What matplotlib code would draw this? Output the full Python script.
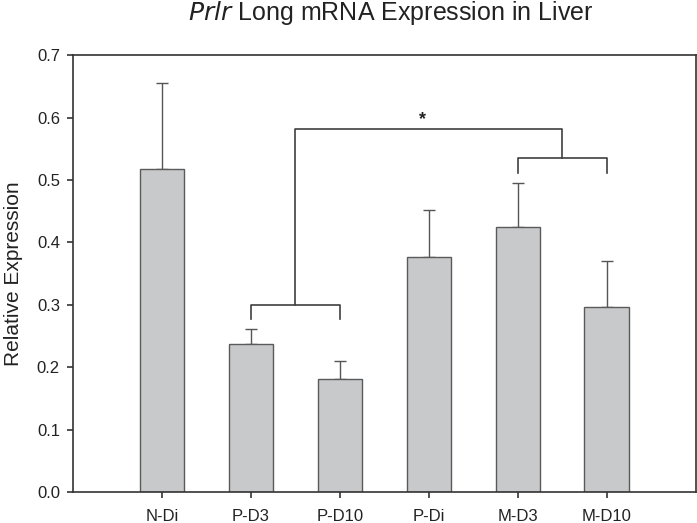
import numpy as np
import matplotlib.pyplot as plt

plt.rcParams['font.family'] = ['Liberation Sans', 'DejaVu Sans']

groups = ["N-Di", "P-D3", "P-D10", "P-Di", "M-D3", "M-D10"]
means = [0.518, 0.238, 0.181, 0.376, 0.425, 0.296]
errs = [0.137, 0.024, 0.029, 0.076, 0.070, 0.075]

# significance brackets (y levels in data units)
low_bracket_y = 0.300
low_leg_y = 0.278
right_bracket_y = 0.536
right_leg_y = 0.512
top_bracket_y = 0.5825

fig = plt.figure(figsize=(6.97, 5.23), dpi=100)
ax = fig.add_axes([0.105, 0.0593, 0.893, 0.835])

x = np.arange(len(groups))
ax.bar(x, means, width=0.5, color='#c8c9cb', edgecolor='#5a5a5a', linewidth=1.0, zorder=2)
ax.errorbar(x, means, yerr=[np.zeros(len(errs)), errs], fmt='none',
            ecolor='#555555', elinewidth=1.0, capsize=4.5, capthick=1.0, zorder=1)

lc = '#404040'
lw = 1.2
# left bracket over P-D3 / P-D10
ax.plot([x[1], x[1], x[2], x[2]], [low_leg_y, low_bracket_y, low_bracket_y, low_leg_y], color=lc, lw=lw)
# right bracket over M-D3 / M-D10
ax.plot([x[4], x[4], x[5], x[5]], [right_leg_y, right_bracket_y, right_bracket_y, right_leg_y], color=lc, lw=lw)
# top bracket joining both
lmid = (x[1] + x[2]) / 2
rmid = (x[4] + x[5]) / 2
ax.plot([lmid, lmid, rmid, rmid], [low_bracket_y, top_bracket_y, top_bracket_y, right_bracket_y], color=lc, lw=lw)
ax.text(2.93, top_bracket_y + 0.001, '*', ha='center', va='bottom', fontsize=13, fontweight='bold', color='#222222')

ax.set_xlim(-1, 6)
ax.set_ylim(0, 0.7)
ax.set_yticks(np.arange(0, 0.71, 0.1))
ax.set_yticklabels([f"{v:.1f}" for v in np.arange(0, 0.71, 0.1)])
ax.set_xticks(x)
ax.set_xticklabels(groups)

for s in ax.spines.values():
    s.set_color('#333333')
    s.set_linewidth(1.2)
ax.tick_params(axis='both', direction='out', length=4.5, width=1.2, color='#333333',
               labelsize=12, labelcolor='#222222')
ax.tick_params(axis='x', pad=8)
ax.tick_params(axis='y', pad=5)

ax.set_ylabel('Relative Expression', fontsize=15, color='#222222', labelpad=10)
fig.text(0.56, 0.975, r'$\mathit{Prlr}$ Long mRNA Expression in Liver', ha='center', va='center',
         fontsize=18, color='#222222')

fig.savefig('out.png', dpi=100)
